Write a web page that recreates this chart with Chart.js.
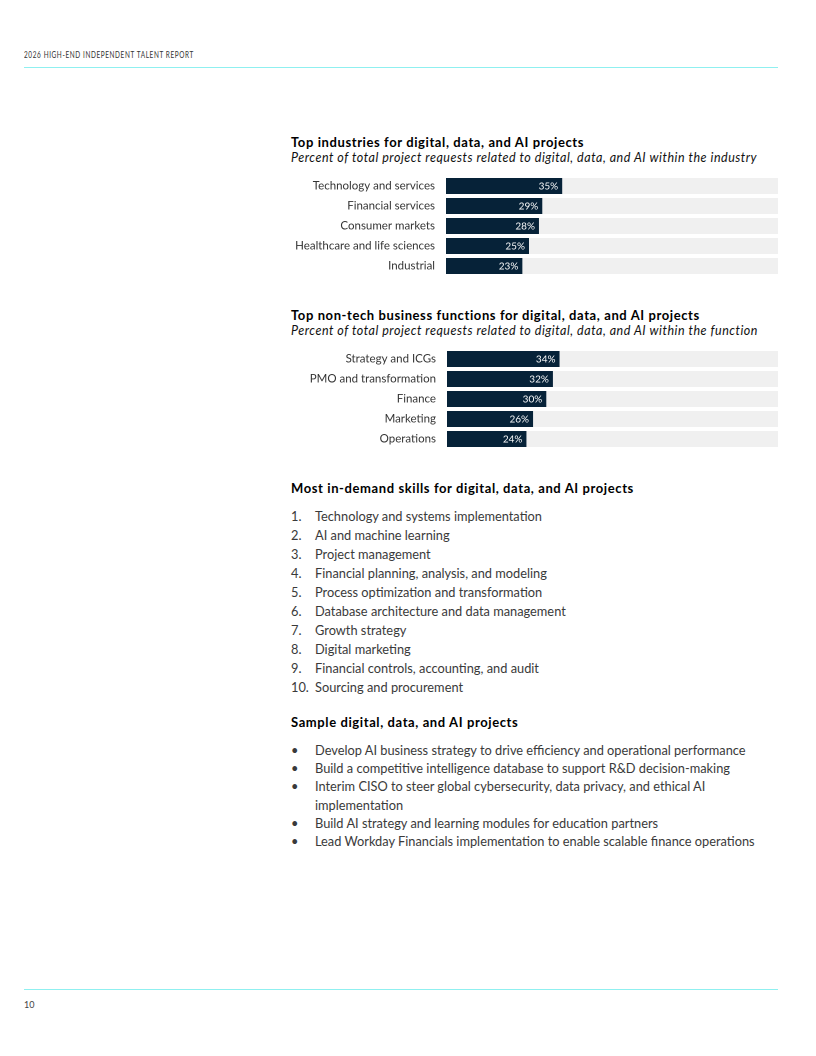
<!DOCTYPE html>
<html>
<head>
<meta charset="utf-8">
<script src="https://cdn.jsdelivr.net/npm/chart.js@4.4.1/dist/chart.umd.min.js"></script>
<style>
  html, body { margin: 0; padding: 0; background: #fff; }
  body { width: 816px; height: 1056px; position: relative; font-family: Lato, "Noto Sans", sans-serif; color: #222; }
  .abs { position: absolute; white-space: nowrap; }
  .hdr { left: 24px; top: 48px; font-size: 9.3px; letter-spacing: 0.9px; color: #333; line-height: 14px; transform: scaleX(0.69); transform-origin: left center; }
  .rule { position: absolute; left: 24px; width: 754px; height: 1px; background: #8ff0f0; }
  .title { left: 291px; font-weight: 700; font-size: 13px; letter-spacing: 0.6px; color: #000; line-height: 16px; }
  .sub { left: 291px; font-style: italic; font-size: 12.5px; letter-spacing: 0.52px; color: #111; line-height: 16px; }
  .item { left: 291px; font-size: 12.8px; color: #3a3a3a; line-height: 18px; }
  .item span.n { display: inline-block; width: 24px; }
  .chartbox { position: absolute; left: 286px; width: 492px; height: 100px; }
  .pg { left: 24px; top: 998px; font-size: 9px; color: #444; line-height: 14px; }
</style>
</head>
<body>
<div class="abs hdr">2026 HIGH-END INDEPENDENT TALENT REPORT</div>
<div class="rule" style="top:67px"></div>

<div class="abs title" style="top:134px">Top industries for digital, data, and AI projects</div>
<div class="abs sub" style="top:150px">Percent of total project requests related to digital, data, and AI within the industry</div>
<div class="chartbox" style="top:176px"><canvas id="c1" width="492" height="100"></canvas></div>

<div class="abs title" style="top:307px">Top non-tech business functions for digital, data, and AI projects</div>
<div class="abs sub" style="top:323px">Percent of total project requests related to digital, data, and AI within the function</div>
<div class="chartbox" style="top:349px"><canvas id="c2" width="492" height="100"></canvas></div>

<div class="abs title" style="top:480px">Most in-demand skills for digital, data, and AI projects</div>
<div id="skills"></div>

<div class="abs title" style="top:714px">Sample digital, data, and AI projects</div>
<div id="samples"></div>

<div class="rule" style="top:989px"></div>
<div class="abs pg">10</div>

<script>
const industries = ['Technology and services', 'Financial services', 'Consumer markets', 'Healthcare and life sciences', 'Industrial'];
const industryValues = [35, 29, 28, 25, 23];

const functions = ['Strategy and ICGs', 'PMO and transformation', 'Finance', 'Marketing', 'Operations'];
const functionValues = [34, 32, 30, 26, 24];

const scaleMax = 100;

const skills = [
  'Technology and systems implementation',
  'AI and machine learning',
  'Project management',
  'Financial planning, analysis, and modeling',
  'Process optimization and transformation',
  'Database architecture and data management',
  'Growth strategy',
  'Digital marketing',
  'Financial controls, accounting, and audit',
  'Sourcing and procurement'
];

const samples = [
  ['Develop AI business strategy to drive efficiency and operational performance'],
  ['Build a competitive intelligence database to support R&D decision-making'],
  ['Interim CISO to steer global cybersecurity, data privacy, and ethical AI', 'implementation'],
  ['Build AI strategy and learning modules for education partners'],
  ['Lead Workday Financials implementation to enable scalable finance operations']
];

// lists
let html = '';
skills.forEach((s, i) => {
  const top = 507 + i * 19;
  html += `<div class="abs item" style="top:${top}px"><span class="n">${i + 1}.</span>${s}</div>`;
});
document.getElementById('skills').innerHTML = html;

html = '';
let y = 741;
samples.forEach(lines => {
  lines.forEach((l, j) => {
    html += `<div class="abs item" style="top:${y}px"><span class="n">${j === 0 ? '&bull;' : ''}</span>${l}</div>`;
    y += 18.2;
  });
});
document.getElementById('samples').innerHTML = html;

// value labels inside the bar ends
const valueLabels = {
  id: 'valueLabels',
  afterDatasetsDraw(chart) {
    const ctx = chart.ctx;
    const meta = chart.getDatasetMeta(0);
    ctx.save();
    ctx.fillStyle = '#ffffff';
    ctx.font = '10px Lato, sans-serif';
    ctx.textAlign = 'right';
    ctx.textBaseline = 'middle';
    meta.data.forEach((bar, i) => {
      ctx.fillText(chart.data.datasets[0].data[i] + '%', bar.x - 4, bar.y + 0.5);
    });
    ctx.restore();
  }
};

function barChart(id, labels, values, axisWidth) {
  new Chart(document.getElementById(id), {
    type: 'bar',
    data: {
      labels: labels,
      datasets: [{
        data: values,
        backgroundColor: '#062238',
        grouped: false,
        order: 1,
        barPercentage: 0.8,
        categoryPercentage: 1
      }, {
        data: labels.map(() => scaleMax),
        backgroundColor: '#f0f0f0',
        grouped: false,
        order: 2,
        barPercentage: 0.8,
        categoryPercentage: 1
      }]
    },
    options: {
      indexAxis: 'y',
      responsive: false,
      animation: false,
      devicePixelRatio: 2,
      layout: { padding: 0, autoPadding: false },
      scales: {
        x: { display: false, min: 0, max: scaleMax },
        y: {
          grid: { display: false, drawTicks: false },
          border: { display: false },
          afterFit(axis) {
            axis.width = axisWidth;
            axis.paddingTop = 0;
            axis.paddingBottom = 0;
          },
          ticks: {
            padding: 11,
            color: '#333',
            font: { family: 'Lato, sans-serif', size: 11.5 }
          }
        }
      },
      plugins: {
        legend: { display: false },
        title: { display: false },
        tooltip: { enabled: false }
      }
    },
    plugins: [valueLabels]
  });
}

barChart('c1', industries, industryValues, 160);
barChart('c2', functions, functionValues, 161);
</script>
</body>
</html>
